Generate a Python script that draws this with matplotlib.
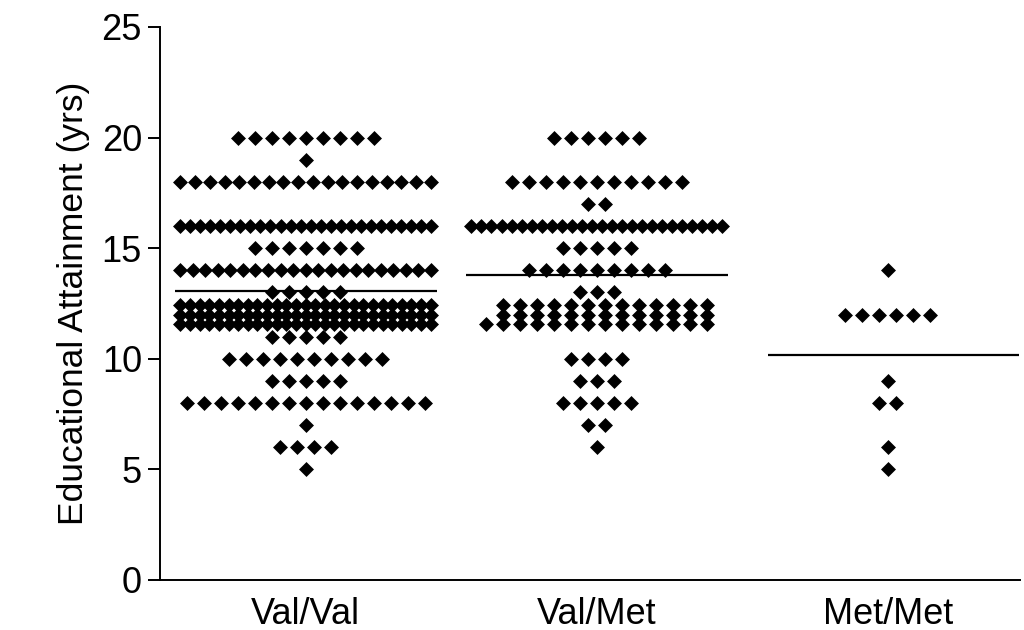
import numpy as np
import matplotlib.pyplot as plt

plt.rcParams['font.family'] = ['Liberation Sans', 'DejaVu Sans']

groups = ["Val/Val", "Val/Met", "Met/Met"]

# years of education and how many subjects sit at each value
valval_years = [20, 19, 18, 16, 15, 14, 13, 12, 11, 10, 9, 8, 7, 6, 5]
valval_counts = [9, 1, 18, 26, 7, 21, 5, 81, 5, 10, 5, 15, 1, 4, 1]

valmet_years = [20, 18, 17, 16, 15, 14, 13, 12, 10, 9, 8, 7, 6]
valmet_counts = [6, 11, 2, 26, 5, 9, 3, 40, 4, 3, 5, 2, 1]

metmet_years = [14, 12, 9, 8, 6, 5]
metmet_counts = [1, 6, 1, 2, 1, 1]


def swarm(center, years, counts, step_max=0.0584, width_max=0.86,
          stack_at=27, row_gap=0.42):
    """
    Spread the points of one group sideways, Prism style.
    Values with many points are stacked into three sub rows.
    """
    xs, ys = [], []
    for val, n in zip(years, counts):
        if n > stack_at:
            rows = 3
            cols = int(np.ceil(n / rows))
            step = min(step_max, width_max / (cols - 1))
            offs = (np.arange(cols) - (cols - 1) / 2) * step
            left = n - rows * (cols - 1)
            for c in range(cols):
                k = left if c == 0 else rows
                for r in range(k):
                    xs.append(center + offs[c])
                    ys.append(val + (r - 1) * row_gap)
        else:
            step = step_max if n < 2 else min(step_max, width_max / (n - 1))
            offs = (np.arange(n) - (n - 1) / 2) * step
            xs.extend(center + offs)
            ys.extend([val] * n)
    return np.array(xs), np.array(ys)


fig = plt.figure(figsize=(10.24, 6.3), dpi=100)
ax = fig.add_axes([0.15625, 0.0794, 0.84, 0.8778])

data = [(valval_years, valval_counts),
        (valmet_years, valmet_counts),
        (metmet_years, metmet_counts)]

for i, (yrs, cnt) in enumerate(data):
    pos = i + 1
    x, y = swarm(pos, yrs, cnt)
    ax.scatter(x, y, marker="D", s=58, color="black", linewidths=0,
               zorder=3)
    mean = np.average(yrs, weights=cnt)
    half = 0.45 if pos < 3 else 0.41
    ax.plot([pos - half, pos + 0.45], [mean, mean], color="black",
            lw=1.6, zorder=2, solid_capstyle="butt")

ax.set_xlim(0.5, 3.455)
ax.set_ylim(0, 25)
ax.set_yticks([0, 5, 10, 15, 20, 25])
ax.set_xticks([1, 2, 3])
ax.set_xticklabels(groups)

for s in ["top", "right"]:
    ax.spines[s].set_visible(False)
for s in ["left", "bottom"]:
    ax.spines[s].set_linewidth(1.4)

ax.tick_params(axis="y", length=9, width=1.4, pad=4, labelsize=26)
ax.tick_params(axis="x", length=0, pad=12, labelsize=26)
ax.set_ylabel("Educational Attainment (yrs)", fontsize=25.5, labelpad=8)

fig.savefig("out.png", dpi=100)
